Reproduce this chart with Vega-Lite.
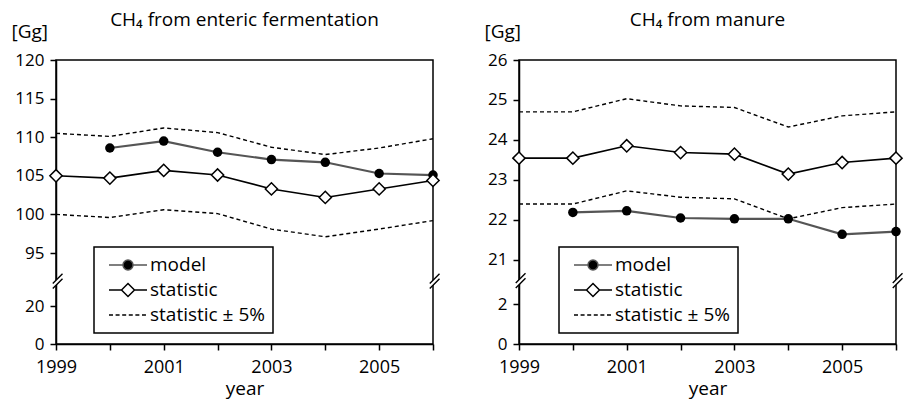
{
  "$schema": "https://vega.github.io/schema/vega-lite/v6.json",
  "padding": {"left": 10, "top": 10, "right": 2, "bottom": 2},
  "datasets": {
    "d": [
      {"p": "e", "year": 1999, "series": "statistic", "bound": "-", "value": 105.0},
      {"p": "e", "year": 2000, "series": "statistic", "bound": "-", "value": 104.7},
      {"p": "e", "year": 2001, "series": "statistic", "bound": "-", "value": 105.7},
      {"p": "e", "year": 2002, "series": "statistic", "bound": "-", "value": 105.1},
      {"p": "e", "year": 2003, "series": "statistic", "bound": "-", "value": 103.3},
      {"p": "e", "year": 2004, "series": "statistic", "bound": "-", "value": 102.2},
      {"p": "e", "year": 2005, "series": "statistic", "bound": "-", "value": 103.3},
      {"p": "e", "year": 2006, "series": "statistic", "bound": "-", "value": 104.4},
      {"p": "e", "year": 2000, "series": "model", "bound": "-", "value": 108.6},
      {"p": "e", "year": 2001, "series": "model", "bound": "-", "value": 109.5},
      {"p": "e", "year": 2002, "series": "model", "bound": "-", "value": 108.05},
      {"p": "e", "year": 2003, "series": "model", "bound": "-", "value": 107.1},
      {"p": "e", "year": 2004, "series": "model", "bound": "-", "value": 106.75},
      {"p": "e", "year": 2005, "series": "model", "bound": "-", "value": 105.3},
      {"p": "e", "year": 2006, "series": "model", "bound": "-", "value": 105.1},
      {"p": "e", "year": 1999, "series": "statistic ± 5%", "bound": "upper", "value": 110.5},
      {"p": "e", "year": 2000, "series": "statistic ± 5%", "bound": "upper", "value": 110.1},
      {"p": "e", "year": 2001, "series": "statistic ± 5%", "bound": "upper", "value": 111.2},
      {"p": "e", "year": 2002, "series": "statistic ± 5%", "bound": "upper", "value": 110.6},
      {"p": "e", "year": 2003, "series": "statistic ± 5%", "bound": "upper", "value": 108.7},
      {"p": "e", "year": 2004, "series": "statistic ± 5%", "bound": "upper", "value": 107.75},
      {"p": "e", "year": 2005, "series": "statistic ± 5%", "bound": "upper", "value": 108.6},
      {"p": "e", "year": 2006, "series": "statistic ± 5%", "bound": "upper", "value": 109.8},
      {"p": "e", "year": 1999, "series": "statistic ± 5%", "bound": "lower", "value": 100.0},
      {"p": "e", "year": 2000, "series": "statistic ± 5%", "bound": "lower", "value": 99.6},
      {"p": "e", "year": 2001, "series": "statistic ± 5%", "bound": "lower", "value": 100.6},
      {"p": "e", "year": 2002, "series": "statistic ± 5%", "bound": "lower", "value": 100.1},
      {"p": "e", "year": 2003, "series": "statistic ± 5%", "bound": "lower", "value": 98.1},
      {"p": "e", "year": 2004, "series": "statistic ± 5%", "bound": "lower", "value": 97.1},
      {"p": "e", "year": 2005, "series": "statistic ± 5%", "bound": "lower", "value": 98.1},
      {"p": "e", "year": 2006, "series": "statistic ± 5%", "bound": "lower", "value": 99.2},
      {"p": "e", "year": 1999, "series": "break", "bound": "-", "value": 53},
      {"p": "e", "year": 2006, "series": "break", "bound": "-", "value": 53},
      {"p": "m", "year": 1999, "series": "statistic", "bound": "-", "value": 23.54},
      {"p": "m", "year": 2000, "series": "statistic", "bound": "-", "value": 23.54},
      {"p": "m", "year": 2001, "series": "statistic", "bound": "-", "value": 23.85},
      {"p": "m", "year": 2002, "series": "statistic", "bound": "-", "value": 23.68},
      {"p": "m", "year": 2003, "series": "statistic", "bound": "-", "value": 23.64},
      {"p": "m", "year": 2004, "series": "statistic", "bound": "-", "value": 23.14},
      {"p": "m", "year": 2005, "series": "statistic", "bound": "-", "value": 23.43},
      {"p": "m", "year": 2006, "series": "statistic", "bound": "-", "value": 23.54},
      {"p": "m", "year": 2000, "series": "model", "bound": "-", "value": 22.18},
      {"p": "m", "year": 2001, "series": "model", "bound": "-", "value": 22.22},
      {"p": "m", "year": 2002, "series": "model", "bound": "-", "value": 22.04},
      {"p": "m", "year": 2003, "series": "model", "bound": "-", "value": 22.02},
      {"p": "m", "year": 2004, "series": "model", "bound": "-", "value": 22.02},
      {"p": "m", "year": 2005, "series": "model", "bound": "-", "value": 21.63},
      {"p": "m", "year": 2006, "series": "model", "bound": "-", "value": 21.7},
      {"p": "m", "year": 1999, "series": "statistic ± 5%", "bound": "upper", "value": 24.7},
      {"p": "m", "year": 2000, "series": "statistic ± 5%", "bound": "upper", "value": 24.7},
      {"p": "m", "year": 2001, "series": "statistic ± 5%", "bound": "upper", "value": 25.03},
      {"p": "m", "year": 2002, "series": "statistic ± 5%", "bound": "upper", "value": 24.85},
      {"p": "m", "year": 2003, "series": "statistic ± 5%", "bound": "upper", "value": 24.81},
      {"p": "m", "year": 2004, "series": "statistic ± 5%", "bound": "upper", "value": 24.32},
      {"p": "m", "year": 2005, "series": "statistic ± 5%", "bound": "upper", "value": 24.6},
      {"p": "m", "year": 2006, "series": "statistic ± 5%", "bound": "upper", "value": 24.7},
      {"p": "m", "year": 1999, "series": "statistic ± 5%", "bound": "lower", "value": 22.39},
      {"p": "m", "year": 2000, "series": "statistic ± 5%", "bound": "lower", "value": 22.39},
      {"p": "m", "year": 2001, "series": "statistic ± 5%", "bound": "lower", "value": 22.72},
      {"p": "m", "year": 2002, "series": "statistic ± 5%", "bound": "lower", "value": 22.56},
      {"p": "m", "year": 2003, "series": "statistic ± 5%", "bound": "lower", "value": 22.52},
      {"p": "m", "year": 2004, "series": "statistic ± 5%", "bound": "lower", "value": 22.02},
      {"p": "m", "year": 2005, "series": "statistic ± 5%", "bound": "lower", "value": 22.3},
      {"p": "m", "year": 2006, "series": "statistic ± 5%", "bound": "lower", "value": 22.39},
      {"p": "m", "year": 1999, "series": "break", "bound": "-", "value": 11.3},
      {"p": "m", "year": 2006, "series": "break", "bound": "-", "value": 11.3}
    ]
  },
  "spacing": 86,
  "bounds": "flush",
  "resolve": {
    "scale": {"shape": "independent", "fill": "independent", "stroke": "independent", "y": "independent", "x": "independent"},
    "legend": {"shape": "independent", "fill": "independent", "stroke": "independent"}
  },
  "hconcat": [
    {
      "width": 377,
      "height": 284,
      "title": {"text": "CH₄ from enteric fermentation", "anchor": "middle", "baseline": "alphabetic", "offset": -23, "fontSize": 19, "fontWeight": "normal", "font": "Open Sans", "color": "#000"},
      "data": {"name": "d"},
      "transform": [{"filter": "datum.p == 'e'"}],
      "encoding": {
        "x": {"field": "year", "type": "quantitative",
          "scale": {"domain": [1999, 2006], "nice": false, "zero": false},
          "axis": {"values": [1999, 2000, 2001, 2002, 2003, 2004, 2005, 2006], "format": "d", "labelExpr": "datum.value % 2 == 1 ? datum.label : ''", "title": "year", "labelFlush": false, "labelOverlap": false, "labelPadding": 8, "labelFontSize": 18, "titlePadding": 3}},
        "y": {"field": "value", "type": "quantitative",
          "scale": {"type": "linear", "domain": [0, 20, 95, 120], "range": [284, 246, 193, 0], "nice": false, "zero": false},
          "axis": {"values": [0, 20, 95, 100, 105, 110, 115, 120], "title": "[Gg]", "titleAngle": 0, "titleAlign": "left", "titleBaseline": "middle", "titleX": -45, "titleY": -29, "labelPadding": 6}}
      },
      "layer": [
        {"transform": [{"filter": "datum.series == 'statistic ± 5%'"}],
         "mark": {"type": "line", "color": "#000", "strokeWidth": 1.4, "strokeDash": [4, 3]},
         "encoding": {"detail": {"field": "bound"}}},
        {"transform": [{"filter": "datum.series == 'model'"}],
         "mark": {"type": "line", "color": "#555", "strokeWidth": 2.2}},
        {"transform": [{"filter": "datum.series == 'model'"}],
         "mark": {"type": "point", "shape": "circle", "filled": true, "color": "#000", "opacity": 1, "size": 90}},
        {"transform": [{"filter": "datum.series == 'statistic'"}],
         "mark": {"type": "line", "color": "#000", "strokeWidth": 1.6}},
        {"transform": [{"filter": "datum.series == 'statistic'"}],
         "mark": {"type": "point", "shape": "diamond", "fill": "#fff", "stroke": "#000", "strokeWidth": 1.5, "opacity": 1, "size": 150}},
        {"transform": [{"filter": "datum.series == 'break'"}],
         "mark": {"type": "point", "shape": "M-0.65,0.15L1.3,-1.8L1.3,-0.8L-0.65,1.15Z", "fill": "#fff", "strokeWidth": 0, "opacity": 1, "size": 100}},
        {"transform": [{"filter": "datum.series == 'break'"}],
         "mark": {"type": "point", "shape": "M-0.65,0.15L1.3,-1.8M-0.65,1.15L1.3,-0.8", "fill": "transparent", "stroke": "#000", "strokeWidth": 1.4, "opacity": 1, "size": 100}},
        {"transform": [{"filter": "false"}],
         "mark": {"type": "point", "size": 1444, "strokeWidth": 1.5, "opacity": 1},
         "encoding": {
           "shape": {"field": "series", "type": "nominal",
             "scale": {"domain": ["model", "statistic", "statistic ± 5%"], "range": ["M-1,0H-0.263M0.263,0H1M-0.263,0A0.263,0.263 0 1,0 0.263,0A0.263,0.263 0 1,0 -0.263,0Z", "M-1,0H-0.342M0.342,0H1M-0.342,0L0,-0.342L0.342,0L0,0.342Z", "M-1,0H-0.79M-0.653,0H-0.443M-0.306,0H-0.096M0.041,0H0.251M0.388,0H0.598M0.735,0H0.945"]},
             "legend": {"title": null, "orient": "none", "legendX": 38, "legendY": 187, "padding": 8, "strokeColor": "#000", "fillColor": "#fff", "symbolSize": 1444, "symbolStrokeWidth": 1.5, "clipHeight": 20, "rowPadding": 5, "labelFontSize": 19, "labelFont": "Open Sans", "labelColor": "#000", "symbolOffset": 6, "labelOffset": 2}},
           "fill": {"field": "series", "type": "nominal",
             "scale": {"domain": ["model", "statistic", "statistic ± 5%"], "range": ["#000", "#fff", "transparent"]},
             "legend": {"title": null, "orient": "none", "legendX": 38, "legendY": 187, "padding": 8, "strokeColor": "#000", "fillColor": "#fff", "symbolSize": 1444, "symbolStrokeWidth": 1.5, "clipHeight": 20, "rowPadding": 5, "labelFontSize": 19, "labelFont": "Open Sans", "labelColor": "#000", "symbolOffset": 6, "labelOffset": 2}},
           "stroke": {"field": "series", "type": "nominal",
             "scale": {"domain": ["model", "statistic", "statistic ± 5%"], "range": ["#555", "#000", "#000"]},
             "legend": {"title": null, "orient": "none", "legendX": 38, "legendY": 187, "padding": 8, "strokeColor": "#000", "fillColor": "#fff", "symbolSize": 1444, "symbolStrokeWidth": 1.5, "clipHeight": 20, "rowPadding": 5, "labelFontSize": 19, "labelFont": "Open Sans", "labelColor": "#000", "symbolOffset": 6, "labelOffset": 2}}
         }}
      ]
    },
    {
      "width": 377,
      "height": 284,
      "title": {"text": "CH₄ from manure", "anchor": "middle", "baseline": "alphabetic", "offset": -23, "fontSize": 19, "fontWeight": "normal", "font": "Open Sans", "color": "#000"},
      "data": {"name": "d"},
      "transform": [{"filter": "datum.p == 'm'"}],
      "encoding": {
        "x": {"field": "year", "type": "quantitative",
          "scale": {"domain": [1999, 2006], "nice": false, "zero": false},
          "axis": {"values": [1999, 2000, 2001, 2002, 2003, 2004, 2005, 2006], "format": "d", "labelExpr": "datum.value % 2 == 1 ? datum.label : ''", "title": "year", "labelFlush": false, "labelOverlap": false, "labelPadding": 8, "labelFontSize": 18, "titlePadding": 3}},
        "y": {"field": "value", "type": "quantitative",
          "scale": {"type": "linear", "domain": [0, 2, 21, 26], "range": [284, 244, 199.5, 0], "nice": false, "zero": false},
          "axis": {"values": [0, 2, 21, 22, 23, 24, 25, 26], "title": "[Gg]", "titleAngle": 0, "titleAlign": "left", "titleBaseline": "middle", "titleX": -35, "titleY": -29, "labelPadding": 6}}
      },
      "layer": [
        {"transform": [{"filter": "datum.series == 'statistic ± 5%'"}],
         "mark": {"type": "line", "color": "#000", "strokeWidth": 1.4, "strokeDash": [4, 3]},
         "encoding": {"detail": {"field": "bound"}}},
        {"transform": [{"filter": "datum.series == 'model'"}],
         "mark": {"type": "line", "color": "#555", "strokeWidth": 2.2}},
        {"transform": [{"filter": "datum.series == 'model'"}],
         "mark": {"type": "point", "shape": "circle", "filled": true, "color": "#000", "opacity": 1, "size": 90}},
        {"transform": [{"filter": "datum.series == 'statistic'"}],
         "mark": {"type": "line", "color": "#000", "strokeWidth": 1.6}},
        {"transform": [{"filter": "datum.series == 'statistic'"}],
         "mark": {"type": "point", "shape": "diamond", "fill": "#fff", "stroke": "#000", "strokeWidth": 1.5, "opacity": 1, "size": 150}},
        {"transform": [{"filter": "datum.series == 'break'"}],
         "mark": {"type": "point", "shape": "M-0.65,0.15L1.3,-1.8L1.3,-0.8L-0.65,1.15Z", "fill": "#fff", "strokeWidth": 0, "opacity": 1, "size": 100}},
        {"transform": [{"filter": "datum.series == 'break'"}],
         "mark": {"type": "point", "shape": "M-0.65,0.15L1.3,-1.8M-0.65,1.15L1.3,-0.8", "fill": "transparent", "stroke": "#000", "strokeWidth": 1.4, "opacity": 1, "size": 100}},
        {"transform": [{"filter": "false"}],
         "mark": {"type": "point", "size": 1444, "strokeWidth": 1.5, "opacity": 1},
         "encoding": {
           "shape": {"field": "series", "type": "nominal",
             "scale": {"domain": ["model", "statistic", "statistic ± 5%"], "range": ["M-1,0H-0.263M0.263,0H1M-0.263,0A0.263,0.263 0 1,0 0.263,0A0.263,0.263 0 1,0 -0.263,0Z", "M-1,0H-0.342M0.342,0H1M-0.342,0L0,-0.342L0.342,0L0,0.342Z", "M-1,0H-0.79M-0.653,0H-0.443M-0.306,0H-0.096M0.041,0H0.251M0.388,0H0.598M0.735,0H0.945"]},
             "legend": {"title": null, "orient": "none", "legendX": 40, "legendY": 187, "padding": 8, "strokeColor": "#000", "fillColor": "#fff", "symbolSize": 1444, "symbolStrokeWidth": 1.5, "clipHeight": 20, "rowPadding": 5, "labelFontSize": 19, "labelFont": "Open Sans", "labelColor": "#000", "symbolOffset": 6, "labelOffset": 2}},
           "fill": {"field": "series", "type": "nominal",
             "scale": {"domain": ["model", "statistic", "statistic ± 5%"], "range": ["#000", "#fff", "transparent"]},
             "legend": {"title": null, "orient": "none", "legendX": 40, "legendY": 187, "padding": 8, "strokeColor": "#000", "fillColor": "#fff", "symbolSize": 1444, "symbolStrokeWidth": 1.5, "clipHeight": 20, "rowPadding": 5, "labelFontSize": 19, "labelFont": "Open Sans", "labelColor": "#000", "symbolOffset": 6, "labelOffset": 2}},
           "stroke": {"field": "series", "type": "nominal",
             "scale": {"domain": ["model", "statistic", "statistic ± 5%"], "range": ["#555", "#000", "#000"]},
             "legend": {"title": null, "orient": "none", "legendX": 40, "legendY": 187, "padding": 8, "strokeColor": "#000", "fillColor": "#fff", "symbolSize": 1444, "symbolStrokeWidth": 1.5, "clipHeight": 20, "rowPadding": 5, "labelFontSize": 19, "labelFont": "Open Sans", "labelColor": "#000", "symbolOffset": 6, "labelOffset": 2}}
         }}
      ]
    }
  ],
  "config": {
    "font": "Open Sans",
    "background": "#fff",
    "view": {"stroke": "#000", "strokeWidth": 1.5},
    "axis": {"domainColor": "#000", "tickColor": "#000", "labelColor": "#000", "titleColor": "#000", "domainWidth": 1.5, "tickWidth": 1.5, "tickSize": 6, "labelFontSize": 17, "titleFontSize": 19, "titleFontWeight": "normal", "labelFont": "Open Sans", "titleFont": "Open Sans", "grid": false},
    "legend": {"strokeWidth": 1.5}
  }
}
